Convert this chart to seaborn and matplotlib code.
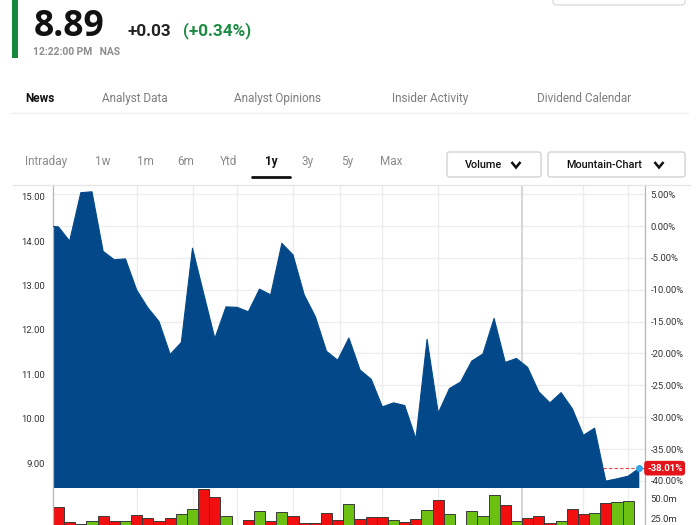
import numpy as np
import pandas as pd
import matplotlib
matplotlib.use("Agg")
import matplotlib.pyplot as plt
import matplotlib.transforms as mtransforms
from matplotlib.patches import FancyBboxPatch, Rectangle
from matplotlib.lines import Line2D
import seaborn as sns

# ---------------- data ----------------
week = list(range(0, 54))
price = [14.34, 14.32, 14.00, 15.09, 15.11, 13.77, 13.58, 13.60, 12.90, 12.50,
         12.19, 11.45, 11.72, 13.84, 12.82, 11.81, 12.52, 12.51, 12.41, 12.92,
         12.79, 13.95, 13.69, 12.79, 12.30, 11.52, 11.32, 11.82, 11.10, 10.89,
         10.27, 10.36, 10.30, 9.55, 11.79, 10.13, 10.68, 10.83, 11.30, 11.46,
         12.26, 11.27, 11.36, 11.16, 10.61, 10.36, 10.59, 10.23, 9.63, 9.79,
         8.60, 8.65, 8.71, 8.89]
volume_m = [39.6, 20.8, 19.2, 22.9, 29.2, 22.1, 22.9, 30.4, 25.8, 22.5,
            25.8, 30.9, 37.1, 63.0, 52.9, 29.2, 12.0, 23.8, 35.0, 22.5,
            34.2, 28.8, 19.6, 20.4, 32.1, 23.8, 43.3, 24.6, 27.9, 27.9,
            23.8, 21.7, 25.0, 36.3, 48.8, 31.3, 14.0, 35.4, 29.2, 55.0,
            42.5, 22.9, 25.8, 28.8, 19.6, 22.9, 37.1, 31.3, 32.9, 44.6,
            46.7, 47.9, 18.0]
price_ticks = [9, 10, 11, 12, 13, 14, 15]
pct_ticks = [5, 0, -5, -10, -15, -20, -25, -30, -35, -40]
vol_ticks = [25, 50]
month_lines = [8, 13, 17, 22, 26.2, 30, 35, 48, 52]
year_line = 42.5

tabs = ["News", "Analyst Data", "Analyst Opinions", "Insider Activity", "Dividend Calendar"]
ranges = ["Intraday", "1w", "1m", "6m", "Ytd", "1y", "3y", "5y", "Max"]

last_price = "8.89"
change = "+0.03"
change_pct = "(+0.34%)"
time_label = "12:22:00 PM   NAS"

# ---------------- style ----------------
sns.set_theme(style="white")
plt.rcParams['font.family'] = ['Roboto', 'DejaVu Sans']

W, H = 700, 525
BLUE = "#03498A"
RED = "#F20F0F"
GREEN = "#6CC012"

fig = plt.figure(figsize=(7, 5.25), dpi=100)
fig.patch.set_facecolor("white")

def fx(x):
    return x / W

def fy(y):
    return 1 - y / H

# price axes
ax = fig.add_axes([fx(53), fy(488), fx(645) - fx(53), fy(185) - fy(488)])
# volume axes (extends below the figure edge, like the cropped screenshot)
axv = fig.add_axes([fx(53), fy(539), fx(645) - fx(53), fy(488) - fy(539)])

base = price[0]
df = pd.DataFrame({"week": week, "price": price})

ylo, yhi = 8.444, 15.263
xlo, xhi = 0.51, 53.51

# grid lines (behind area)
for p in pct_ticks:
    ax.axhline(base * (1 + p / 100), color="#ececec", lw=0.9, zorder=0)
for m in month_lines:
    ax.axvline(m, color="#ececec", lw=0.9, zorder=0)
    axv.axvline(m, color="#ececec", lw=0.9, zorder=0)
ax.axvline(year_line, color="#d2d2d2", lw=1.3, zorder=0)
axv.axvline(year_line, color="#d2d2d2", lw=1.3, zorder=0)

# dashed last-price line
ax.axhline(price[-1], color="#e8413c", lw=0.8, ls=(0, (3, 2)), zorder=1)

# mountain
ax.fill_between(df["week"], df["price"], 0, color=BLUE, lw=0, zorder=2)
sns.lineplot(data=df, x="week", y="price", ax=ax, color=BLUE, lw=0.8, zorder=3)
ax.scatter([week[-1]], [price[-1]], s=16, color="#35a7e6", zorder=5, clip_on=False)

ax.set_xlim(xlo, xhi)
ax.set_ylim(ylo, yhi)
ax.set_xlabel("")
ax.set_ylabel("")
ax.set_xticks([])
ax.set_yticks(price_ticks)
ax.set_yticklabels([f"{v:.2f}" for v in price_ticks])
ax.tick_params(axis="y", length=0, labelsize=6.8, pad=6, colors="#333333")
for s in ["top", "bottom"]:
    ax.spines[s].set_visible(False)
for s in ["left", "right"]:
    ax.spines[s].set_color("#b5b5b5")
    ax.spines[s].set_linewidth(0.9)

# percent axis
ax2 = ax.twinx()
ax2.set_ylim((ylo / base - 1) * 100, (yhi / base - 1) * 100)
ax2.set_yticks(pct_ticks)
ax2.set_yticklabels([f"{v:.2f}%" for v in pct_ticks])
ax2.tick_params(axis="y", length=0, labelsize=6.8, pad=4, colors="#333333")
for s in ax2.spines.values():
    s.set_visible(False)
ax2.grid(False)

pct_last = (price[-1] / base - 1) * 100
trans = mtransforms.blended_transform_factory(ax2.transAxes, ax2.transData)
ax2.text(1.0 + 2 / 592, pct_last, f"{pct_last:.2f}%", transform=trans, ha="left", va="center",
         color="white", fontsize=6.8, fontweight="bold", zorder=10,
         bbox=dict(boxstyle="round,pad=0.3,rounding_size=0.35", fc="#E3151A", ec="none"))

# volume bars
vx = week[1:]
vcol = [GREEN if price[i] >= price[i - 1] else RED for i in range(1, len(price))]
axv.bar(vx, volume_m, width=1.0, color=vcol, edgecolor="#3a3a3a", linewidth=0.7, zorder=2)
axv.set_xlim(xlo, xhi)
axv.set_ylim(0, 63.75)
axv.set_xticks([])
axv.yaxis.tick_right()
axv.set_yticks(vol_ticks)
axv.set_yticklabels([f"{v:.1f}m" for v in vol_ticks])
axv.tick_params(axis="y", length=0, labelsize=6.8, pad=4, colors="#333333")
for s in ["top", "bottom"]:
    axv.spines[s].set_visible(False)
for s in ["left", "right"]:
    axv.spines[s].set_color("#b5b5b5")
    axv.spines[s].set_linewidth(0.9)
axv.set_facecolor("white")

# ---------------- page chrome ----------------
fig.patches.append(Rectangle((fx(12), fy(58)), fx(6), fy(0) - fy(58), transform=fig.transFigure,
                             color="#16883A", lw=0))
fig.text(fx(34), fy(36), last_price, fontsize=25.5, fontweight="bold", color="#111111",
         family=["Open Sans", "DejaVu Sans"], va="baseline")
fig.text(fx(128), fy(35.5), change, fontsize=12.3, fontweight="bold", color="#222222", va="baseline")
fig.text(fx(183), fy(35.5), change_pct, fontsize=12.3, fontweight="bold", color="#1E8B45", va="baseline")
fig.text(fx(33), fy(55), time_label, fontsize=7.4, fontweight="bold", color="#8c8c8c", va="baseline")

# top-right partial button
fig.patches.append(FancyBboxPatch((fx(553), fy(5)), fx(132), fy(-20) - fy(5),
                                  boxstyle="round,pad=0,rounding_size=0.006",
                                  transform=fig.transFigure, fc="white", ec="#d9d9d9", lw=0.9))

# tabs
tab_x = [25, 102, 234, 392, 537]
for t, x in zip(tabs, tab_x):
    fig.text(fx(x), fy(98.5), t, fontsize=8.5, va="center",
             color="#111111" if t == "News" else "#7d7d7d",
             fontweight="bold" if t == "News" else "normal")
fig.add_artist(Line2D([fx(12), fx(688)], [fy(113), fy(113)], color="#efefef", lw=1.0))

# range selector
rng_x = [25, 95, 137, 177, 220, 265, 302, 341, 380]
for t, x in zip(ranges, rng_x):
    fig.text(fx(x), fy(161.5), t, fontsize=8.5, va="center",
             color="#111111" if t == "1y" else "#8a8a8a",
             fontweight="bold" if t == "1y" else "normal")
fig.add_artist(Line2D([fx(252), fx(290)], [fy(177), fy(177)], color="#111111", lw=2.0))

for (x0, x1, label, tx, cx) in [(447, 541, "Volume", 465, 516), (548, 685, "Mountain-Chart", 566, 659)]:
    fig.patches.append(FancyBboxPatch((fx(x0), fy(177)), fx(x1 - x0), fy(152) - fy(177),
                                      boxstyle="round,pad=0,rounding_size=0.004",
                                      transform=fig.transFigure, fc="white", ec="#cfcfcf", lw=0.9))
    fig.text(fx(tx), fy(165), label, fontsize=7.8, va="center", color="#111111", fontweight="medium")
    fig.add_artist(Line2D([fx(cx - 4.5), fx(cx), fx(cx + 4.5)], [fy(162), fy(167.5), fy(162)],
                          color="#111111", lw=1.8, solid_capstyle="butt", solid_joinstyle="miter"))

# top border of chart
fig.add_artist(Line2D([fx(13), fx(690)], [fy(185), fy(185)], color="#e6e6e6", lw=1.0))

fig.savefig("out.png", dpi=100)
